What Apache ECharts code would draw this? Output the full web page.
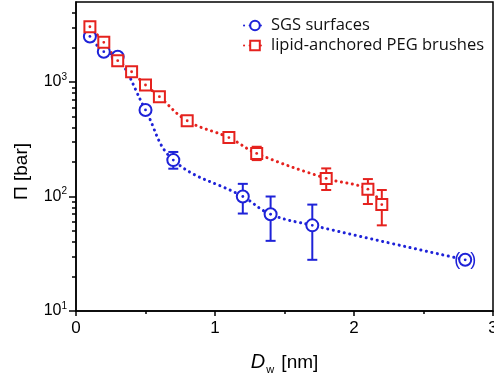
<!DOCTYPE html>
<html><head><meta charset="utf-8">
<script src="https://cdn.jsdelivr.net/npm/echarts@6/dist/echarts.min.js"></script>
<style>html,body{margin:0;padding:0;background:#fff}#c{width:494px;height:385px}</style>
</head><body><div id="c"></div>
<script>
// SGS surfaces
const sgsD   = [0.1, 0.2, 0.3, 0.5, 0.7, 1.2, 1.4, 1.7, 2.8];
const sgsPi  = [2500, 1840, 1660, 570, 208, 100, 70, 56, 28];
const sgsLo  = [null, null, null, null, 175, 71, 41, 28, null];
const sgsHi  = [null, null, null, null, 245, 129, 100, 85, null];
const sgsBracketed = [false, false, false, false, false, false, false, false, true];
// lipid-anchored PEG brushes
const pegD   = [0.1, 0.2, 0.3, 0.4, 0.5, 0.6, 0.8, 1.1, 1.3, 1.8, 2.1, 2.2];
const pegPi  = [3040, 2220, 1535, 1230, 942, 745, 459, 327, 238, 144, 116, 85];
const pegLo  = [null, null, null, null, null, null, null, 300, 208, 114, 86, 56];
const pegHi  = [null, null, null, null, null, null, null, 355, 272, 176, 142, 114];
// axes
const xTicks = [0, 1, 2, 3];
const yMajorTicks = [10, 100, 1000];
const yMinorTicks = [20,30,40,50,60,70,80,90,200,300,400,500,600,700,800,900,2000,3000,4000];

const BLUE = '#1e22d8', RED = '#e5221e';
const chart = echarts.init(document.getElementById('c'), null, {renderer:'canvas'});

function markerSeries(name, xs, ys, lo, hi, kind, color, brk) {
  return {
    type: 'custom', name: name + '_m', silent: true, z: 5,
    data: xs.map((x, i) => [x, ys[i]]),
    renderItem: function (params, api) {
      const i = params.dataIndex;
      const p = api.coord([api.value(0), api.value(1)]);
      const ch = [];
      if (lo[i] != null) {
        const a = api.coord([xs[i], hi[i]]), b = api.coord([xs[i], lo[i]]);
        const st = {stroke: color, lineWidth: 2};
        ch.push({type:'line', shape:{x1:p[0], y1:a[1], x2:p[0], y2:b[1]}, style:st});
        ch.push({type:'line', shape:{x1:p[0]-5, y1:a[1], x2:p[0]+5, y2:a[1]}, style:st});
        ch.push({type:'line', shape:{x1:p[0]-5, y1:b[1], x2:p[0]+5, y2:b[1]}, style:st});
      }
      if (kind === 'circle') {
        ch.push({type:'circle', shape:{cx:p[0], cy:p[1], r:6}, style:{fill:'#fff', stroke:color, lineWidth:2}});
      } else {
        ch.push({type:'rect', shape:{x:p[0]-5.5, y:p[1]-5.5, width:11, height:11}, style:{fill:'#fff', stroke:color, lineWidth:2}});
      }
      ch.push({type:'circle', shape:{cx:p[0], cy:p[1], r:1.4}, style:{fill:color}});
      if (brk && brk[i]) {
        ch.push({type:'text', style:{text:'(', x:p[0]-8, y:p[1], align:'center', verticalAlign:'middle', fill:color, font:'18px "Liberation Sans"'}});
        ch.push({type:'text', style:{text:')', x:p[0]+8, y:p[1], align:'center', verticalAlign:'middle', fill:color, font:'18px "Liberation Sans"'}});
      }
      return {type:'group', children: ch};
    }
  };
}

function lineSeries(name, xs, ys, color, sym) {
  return {
    type: 'line', name: name, smooth: 0.4, z: 3,
    data: xs.map((x, i) => [x, ys[i]]),
    symbol: sym, symbolSize: 9, showSymbol: false,
    itemStyle: {color: color, borderColor: color, borderWidth: 2},
    lineStyle: {color: color, width: 3, type: [0.1, 5.5], cap: 'round'},
    emphasis: {disabled: true}
  };
}

const axisFont = {color:'#000', fontFamily:'Liberation Sans'};
chart.setOption({
  animation: false,
  grid: {left: 76, right: 1, top: 2, bottom: 74, show: true, borderColor: '#000', borderWidth: 1.5, outerBoundsMode: 'none', containLabel: false},
  legend: {
    orient: 'vertical', left: 238, top: 12, itemWidth: 22, itemHeight: 12, itemGap: 3,
    textStyle: {fontSize: 16.5, fontFamily: 'Open Sans', color: '#111'},
    data: ['SGS surfaces', 'lipid-anchored PEG brushes']
  },
  xAxis: {
    type: 'value', min: 0, max: 3, interval: 1,
    name: '{i|D}{s|w} [nm]', nameLocation: 'middle', nameGap: 39,
    nameTextStyle: {fontSize: 19, fontFamily: 'Liberation Sans', color:'#000',
      rich: {i:{fontSize:20, fontStyle:'italic', fontFamily:'Liberation Sans'}, s:{fontSize:11, padding:[14,2,0,1], fontFamily:'Liberation Sans'}}},
    axisLine: {lineStyle: {color:'#000', width: 1.5}},
    axisTick: {length: 5, lineStyle:{width:1.5}},
    minorTick: {show: true, splitNumber: 2, length: 3, lineStyle:{color:'#000', width:1.5}},
    splitLine: {show: false},
    axisLabel: Object.assign({fontSize: 17, margin: 9, customValues: xTicks}, axisFont)
  },
  yAxis: [{
    type: 'log', logBase: 10, min: 10, max: 5000,
    name: 'Π [bar]', nameLocation: 'middle', nameGap: 45,
    nameTextStyle: {fontSize: 19, fontFamily: 'Liberation Sans', color:'#000', padding:[0,30,0,0]},
    axisLine: {show: true, lineStyle: {color:'#000', width: 1.5}},
    axisTick: {show: true, length: 7, customValues: yMajorTicks, lineStyle:{width:1.5}},
    splitLine: {show: false},
    axisLabel: {
      customValues: yMajorTicks, margin: 9,
      formatter: v => '{b|10}{s|' + Math.round(Math.log10(v)) + '}',
      rich: {b:{fontSize:16, fontFamily:'Liberation Sans', color:'#000'}, s:{fontSize:10, fontFamily:'Liberation Sans', color:'#000', padding:[0,0,10,0]}}
    }
  }, {
    type: 'log', logBase: 10, min: 10, max: 5000, position: 'left',
    axisLine: {show: false},
    axisTick: {show: true, length: 4, customValues: yMinorTicks, lineStyle:{color:'#000', width:1.5}},
    axisLabel: {show: false}, splitLine: {show: false}
  }],
  series: [
    lineSeries('SGS surfaces', sgsD, sgsPi, BLUE, 'emptyCircle'),
    lineSeries('lipid-anchored PEG brushes', pegD, pegPi, RED, 'emptyRect'),
    markerSeries('SGS surfaces', sgsD, sgsPi, sgsLo, sgsHi, 'circle', BLUE, sgsBracketed),
    markerSeries('lipid-anchored PEG brushes', pegD, pegPi, pegLo, pegHi, 'rect', RED, null)
  ]
});
</script></body></html>
